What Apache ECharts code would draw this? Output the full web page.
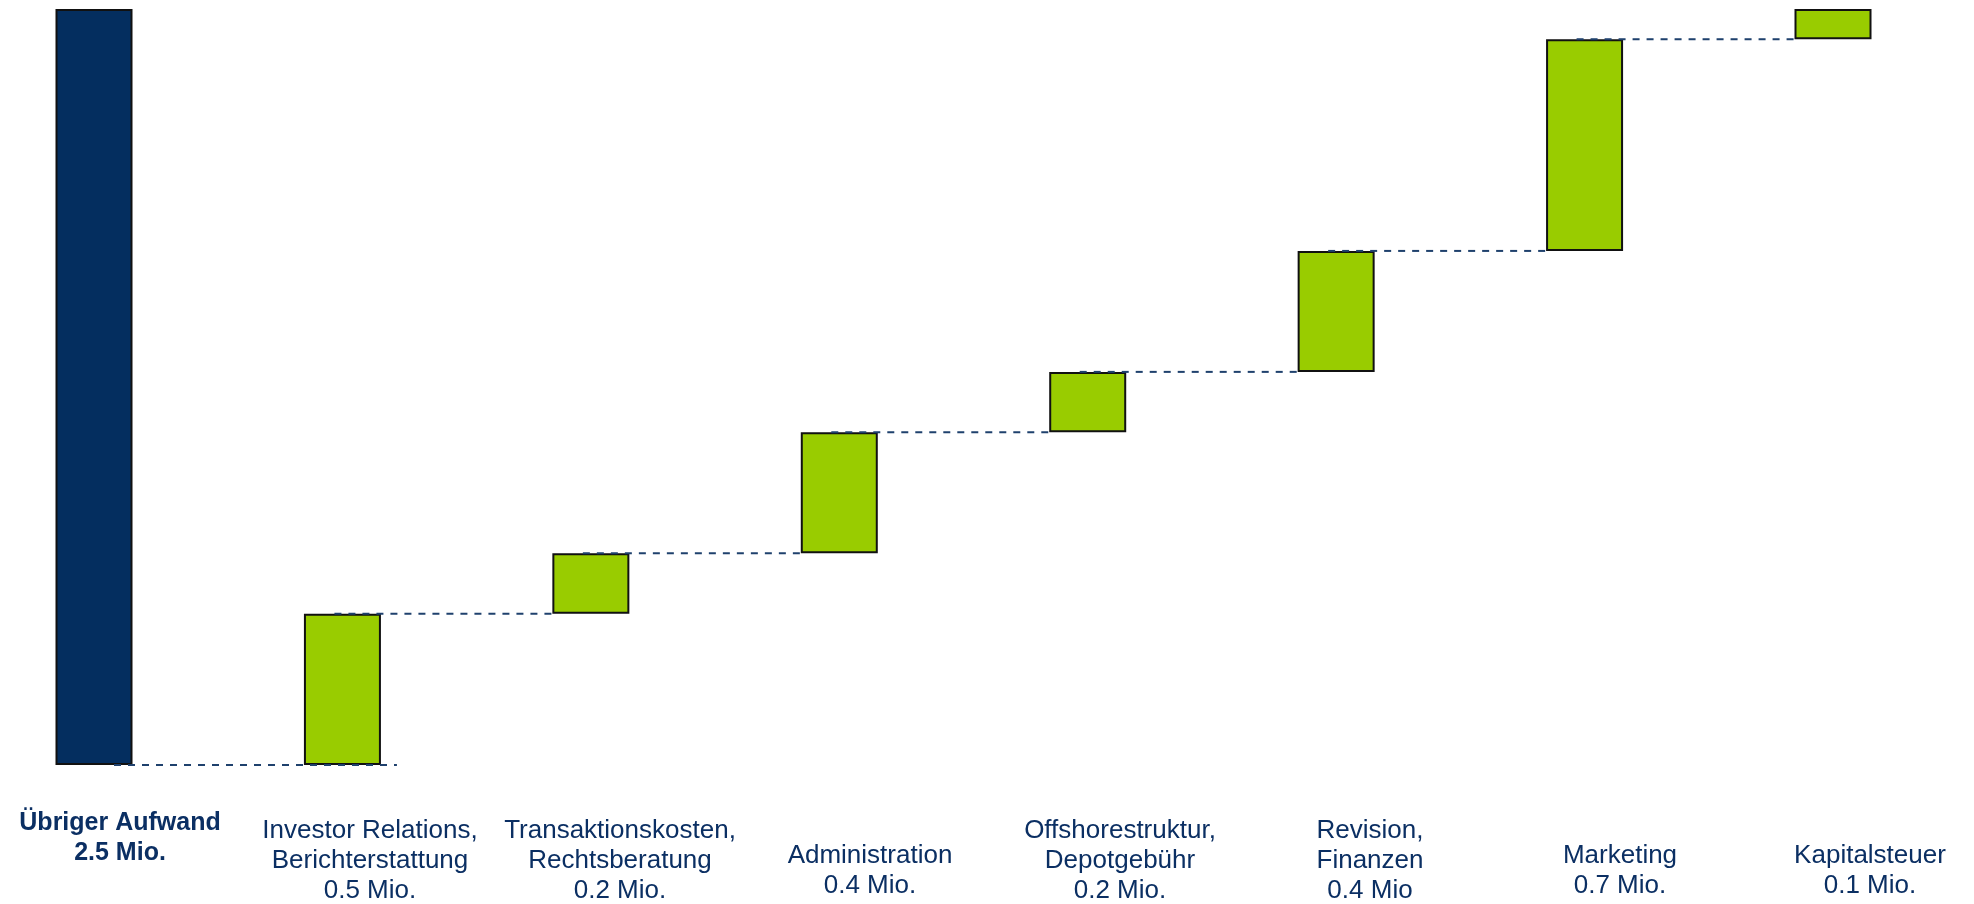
<!DOCTYPE html>
<html>
<head>
<meta charset="utf-8">
<script src="https://cdn.jsdelivr.net/npm/echarts@6/dist/echarts.min.js"></script>
<style>
  html, body { margin: 0; padding: 0; background: #ffffff; }
  #chart { width: 1974px; height: 904px; }
</style>
</head>
<body>
<div id="chart"></div>
<script>
// Cost categories (name lines) and their amount labels
const categories = [
  'Übriger Aufwand',
  'Investor Relations,\nBerichterstattung',
  'Transaktionskosten,\nRechtsberatung',
  'Administration',
  'Offshorestruktur,\nDepotgebühr',
  'Revision,\nFinanzen',
  'Marketing',
  'Kapitalsteuer'
];
const amountLabels = ['2.5 Mio.', '0.5 Mio.', '0.2 Mio.', '0.4 Mio.', '0.2 Mio.', '0.4 Mio', '0.7 Mio.', '0.1 Mio.'];

// Total (Mio.) and the individual cost components that build it up
const totalValue = 2.5;
const componentValues = [0.5, 0.2, 0.4, 0.2, 0.4, 0.7, 0.1];

// Waterfall: invisible base + visible segment for each column
const baseValues = [0];
const segmentValues = [totalValue];
let running = 0;
componentValues.forEach(v => {
  baseValues.push(+running.toFixed(4));
  segmentValues.push(v);
  running += v;
});

// Connector levels: total bottom -> first component, then each component top -> next
const connectors = [[0, 0]];
for (let k = 1; k < categories.length - 1; k++) {
  connectors.push([k, +(baseValues[k] + segmentValues[k]).toFixed(4)]);
}

const NAVY = '#042e5f';
const GREEN = '#99cc00';
const TEXT = '#0b2f63';
const FONT = '"Liberation Sans", Arial, sans-serif';
const BAR_W = 77;

const chart = echarts.init(document.getElementById('chart'), null, { renderer: 'canvas' });

function labelFormatter(value, index) {
  if (index === 0) {
    return '{b|' + value + '}\n{b|' + amountLabels[index] + '}';
  }
  const lines = value.split('\n').concat([amountLabels[index]]);
  const gap = lines.length === 2 ? '{g2| }' : '{g3| }';
  return gap + '\n' + lines.map(l => '{n|' + l + '}').join('\n');
}

chart.setOption({
  animation: false,
  backgroundColor: '#ffffff',
  textStyle: { fontFamily: FONT },
  grid: [
    // columns: first column centred at the left edge, last at the right edge
    { left: 94, right: 141, top: 9, bottom: 139, containLabel: false },
    // category captions
    { left: 120, right: 104, top: 9, bottom: 139, containLabel: false }
  ],
  xAxis: [
    {
      type: 'category', gridIndex: 0, data: categories, boundaryGap: false,
      axisLine: { show: false }, axisTick: { show: false },
      axisLabel: { show: false }, splitLine: { show: false }
    },
    {
      type: 'category', gridIndex: 1, data: categories, boundaryGap: false,
      axisLine: { show: false }, axisTick: { show: false }, splitLine: { show: false },
      axisLabel: {
        interval: 0,
        margin: 45,
        color: TEXT,
        formatter: labelFormatter,
        rich: {
          b: { fontSize: 25, fontWeight: 'bold', lineHeight: 30, color: TEXT, fontFamily: FONT },
          n: { fontSize: 26, lineHeight: 30, color: TEXT, fontFamily: FONT },
          g2: { fontSize: 1, lineHeight: 33 },
          g3: { fontSize: 1, lineHeight: 8 }
        }
      }
    }
  ],
  yAxis: [
    { type: 'value', gridIndex: 0, min: 0, max: totalValue, show: false, splitLine: { show: false } },
    { type: 'value', gridIndex: 1, min: 0, max: 1, show: false, splitLine: { show: false } }
  ],
  series: [
    {
      name: 'Basis', type: 'bar', stack: 'waterfall', xAxisIndex: 0, yAxisIndex: 0,
      barWidth: BAR_W, silent: true,
      itemStyle: { color: 'transparent', borderColor: 'transparent' },
      data: baseValues
    },
    {
      name: 'Aufwand', type: 'bar', stack: 'waterfall', xAxisIndex: 0, yAxisIndex: 0,
      barWidth: BAR_W,
      data: segmentValues.map((v, i) => ({
        value: v,
        itemStyle: { color: i === 0 ? NAVY : GREEN, borderColor: '#111111', borderWidth: 2 }
      }))
    },
    {
      name: 'Verbindung', type: 'custom', xAxisIndex: 0, yAxisIndex: 0, z: 5, silent: true,
      data: connectors,
      renderItem: function (params, api) {
        const i = api.value(0);
        const level = api.value(1);
        const p0 = api.coord([i, level]);
        const p1 = api.coord([i + 1, level]);
        const x0 = i === 0 ? p0[0] + 20 : p0[0] - 8;
        const x1 = i === 0 ? p1[0] + BAR_W / 2 + 16 : p1[0] - BAR_W / 2;
        return {
          type: 'line',
          shape: { x1: x0, y1: p0[1], x2: x1, y2: p1[1] },
          style: { stroke: '#1f416d', lineWidth: 2, lineDash: [7, 7] }
        };
      }
    }
  ]
});
</script>
</body>
</html>
